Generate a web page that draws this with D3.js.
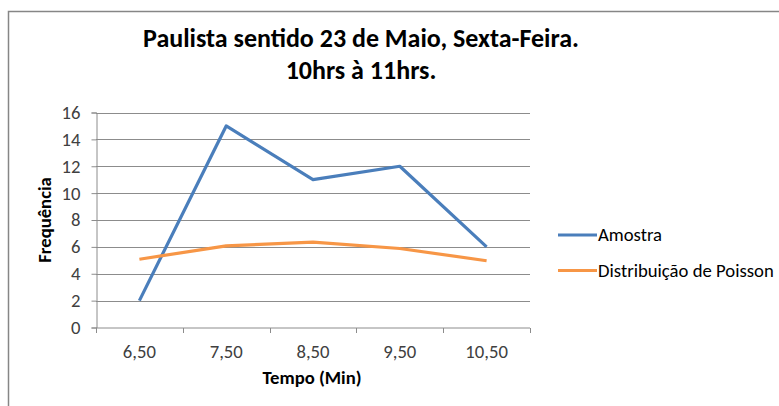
<!DOCTYPE html>
<html>
<head>
<meta charset="utf-8">
<script src="https://cdn.jsdelivr.net/npm/d3@7"></script>
<style>
  html, body { margin: 0; padding: 0; background: #fff; }
  svg { display: block; }
  text { font-family: Carlito, "Open Sans", "Liberation Sans", sans-serif; }
</style>
</head>
<body>
<svg id="chart" width="779" height="406"></svg>
<script>
// Tempo (min) categories and observed / Poisson frequencies
const categories = ["6,50", "7,50", "8,50", "9,50", "10,50"];
const amostra = [2, 15, 11, 12, 6];
const poisson = [5.08, 6.08, 6.35, 5.88, 4.97];
const yTicks = [0, 2, 4, 6, 8, 10, 12, 14, 16];
const seriesNames = ["Amostra", "Distribuição de Poisson"];
const seriesColors = ["#4a7ebb", "#f79646"];
const titleLines = ["Paulista sentido 23 de Maio, Sexta-Feira.", "10hrs à 11hrs."];

const svg = d3.select("#chart");
const FONT = 'Carlito, "Open Sans", "Liberation Sans", sans-serif';

// outer chart frame
svg.append("rect")
  .attr("x", 8.5).attr("y", 11.5)
  .attr("width", 800).attr("height", 420)
  .attr("fill", "#fff").attr("stroke", "#868686").attr("stroke-width", 1.5);

const plot = { left: 96, right: 530, top: 112.5, bottom: 327.5 };

const x = d3.scaleBand().domain(categories).range([plot.left, plot.right]);
const y = d3.scaleLinear().domain([0, 16]).range([plot.bottom, plot.top]);

// horizontal gridlines
svg.append("g").selectAll("line").data(yTicks.filter(d => d > 0)).join("line")
  .attr("x1", plot.left).attr("x2", plot.right)
  .attr("y1", d => Math.round(y(d)) + 0.5).attr("y2", d => Math.round(y(d)) + 0.5)
  .attr("stroke", "#8c8c8c").attr("stroke-width", 1);

// y axis
const yAxis = svg.append("g")
  .attr("transform", `translate(${plot.left + 0.5},0)`)
  .call(d3.axisLeft(y).tickValues(yTicks).tickSize(5).tickPadding(11).tickFormat(d3.format("d")));
yAxis.select(".domain").attr("stroke", "#8c8c8c");
yAxis.selectAll(".tick line").attr("stroke", "#8c8c8c");
yAxis.selectAll(".tick text")
  .attr("font-size", 18.7).attr("fill", "#404040")
  .style("font-family", FONT);

// x axis with boundary ticks between categories
const xAxis = svg.append("g").attr("transform", `translate(0,${plot.bottom + 0.5})`);
xAxis.append("line")
  .attr("x1", plot.left).attr("x2", plot.right)
  .attr("stroke", "#8c8c8c");
const bounds = categories.map(c => x(c)).concat([plot.right]);
xAxis.selectAll(".bt").data(bounds).join("line")
  .attr("class", "bt")
  .attr("x1", d => Math.round(d) + 0.5).attr("x2", d => Math.round(d) + 0.5)
  .attr("y1", 0).attr("y2", 5)
  .attr("stroke", "#8c8c8c");
xAxis.selectAll(".lbl").data(categories).join("text")
  .attr("class", "lbl")
  .attr("x", d => x(d) + x.bandwidth() / 2)
  .attr("y", 30)
  .attr("text-anchor", "middle")
  .attr("font-size", 18.7).attr("fill", "#404040")
  .text(d => d);

// series lines
const line = d3.line()
  .x((d, i) => x(categories[i]) + x.bandwidth() / 2)
  .y(d => y(d));
[amostra, poisson].forEach((vals, i) => {
  svg.append("path")
    .datum(vals)
    .attr("d", line)
    .attr("fill", "none")
    .attr("stroke", seriesColors[i])
    .attr("stroke-width", 3.2)
    .attr("stroke-linejoin", "round");
});

// title
svg.append("text")
  .attr("text-anchor", "middle")
  .attr("font-size", 26).attr("font-weight", "bold").attr("fill", "#000")
  .selectAll("tspan").data(titleLines).join("tspan")
  .attr("x", 361)
  .attr("y", (d, i) => 47 + i * 32)
  .text(d => d);

// axis titles
svg.append("text")
  .attr("x", 312).attr("y", 384)
  .attr("text-anchor", "middle")
  .attr("font-size", 18.7).attr("font-weight", "bold").attr("fill", "#000")
  .text("Tempo (Min)");
svg.append("text")
  .attr("transform", "translate(51,220) rotate(-90)")
  .attr("text-anchor", "middle")
  .attr("font-size", 18.7).attr("font-weight", "bold").attr("fill", "#000")
  .text("Frequência");

// legend
const legend = svg.append("g");
seriesNames.forEach((name, i) => {
  const ly = 235 + i * 35.5;
  legend.append("line")
    .attr("x1", 558).attr("x2", 597)
    .attr("y1", ly).attr("y2", ly)
    .attr("stroke", seriesColors[i]).attr("stroke-width", 3.2);
  legend.append("text")
    .attr("x", 598).attr("y", ly + 6)
    .attr("font-size", 18.7).attr("fill", "#000")
    .text(name);
});
</script>
</body>
</html>
